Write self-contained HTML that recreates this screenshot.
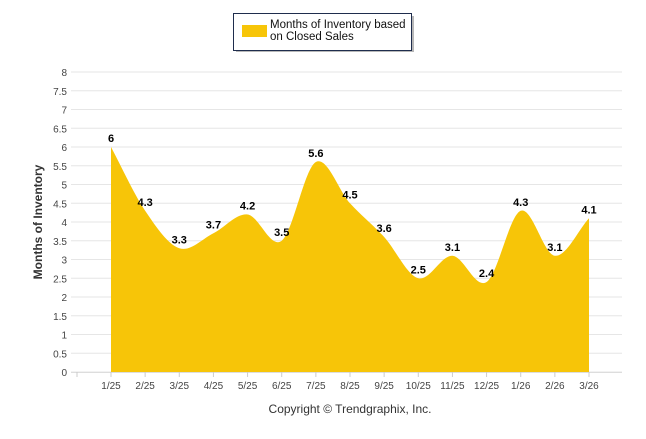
<!DOCTYPE html>
<html><head><meta charset="utf-8"><style>
body{margin:0;background:#fff;width:646px;height:434px;overflow:hidden;font-family:"Liberation Sans",Arial,sans-serif}
</style></head><body>
<svg id="chart" width="646" height="434" xmlns="http://www.w3.org/2000/svg">
<g id="grid"></g>
<g id="yticks"></g>
<path id="area" fill="#f7c508"></path>
<g id="xaxis"></g>
<g id="labels"></g>
<text transform="translate(42,222) rotate(-90)" text-anchor="middle" font-size="12" font-weight="bold" fill="#333">Months of Inventory</text>
<text x="350" y="413" text-anchor="middle" font-size="12" fill="#333">Copyright © Trendgraphix, Inc.</text>
<g>
<rect x="236" y="16" width="178" height="36" fill="#333" opacity="0.35"/>
<rect x="233.5" y="13.5" width="178" height="37" fill="#fff" stroke="#1f2d4d" stroke-width="1"/>
<rect x="242" y="25" width="25" height="12" fill="#f7c508"/>
<text x="270" y="28" font-size="11.5" fill="#111">Months of Inventory based</text>
<text x="270" y="40" font-size="11.5" fill="#111">on Closed Sales</text>
</g>
</svg>
<script>
const categories=["1/25","2/25","3/25","4/25","5/25","6/25","7/25","8/25","9/25","10/25","11/25","12/25","1/26","2/26","3/26"];
const values=[6,4.3,3.3,3.7,4.2,3.5,5.6,4.5,3.6,2.5,3.1,2.4,4.3,3.1,4.1];
const yTicks=[0,0.5,1,1.5,2,2.5,3,3.5,4,4.5,5,5.5,6,6.5,7,7.5,8];
const NS="http://www.w3.org/2000/svg";
const x0=111,dx=(589-111)/14,yb=372,yt=72,ymax=8;
const X=i=>x0+i*dx, Y=v=>yb-(v/ymax)*(yb-yt);
function el(t,a,p){const e=document.createElementNS(NS,t);for(const k in a)e.setAttribute(k,a[k]);p.appendChild(e);return e;}
const grid=document.getElementById('grid'),yl=document.getElementById('yticks');
yTicks.forEach(v=>{
 const l=el('line',{x1:71,x2:622,y1:Y(v),y2:Y(v),stroke:'#e6e6e6','stroke-width':1},grid);
 
 
 const t=el('text',{x:67,y:Y(v)+4,'text-anchor':'end','font-size':10,fill:'#444'},yl);
 t.textContent=v;
 
 
});
const pts=values.map((v,i)=>[X(i),Y(v)]);
const n=pts.length;
let d=`M${pts[0][0]},${yb}L${pts[0][0]},${pts[0][1]}`;
function tan(i){const a=pts[Math.max(0,i-1)],b=pts[Math.min(n-1,i+1)];return (b[1]-a[1])/(b[0]-a[0]);}
for(let i=1;i<n;i++){
 const a=pts[i-1],b=pts[i],h=(b[0]-a[0])/3;
 const ta=tan(i-1),tb=tan(i);
 d+=`C${a[0]+h},${a[1]+ta*h} ${b[0]-h},${b[1]-tb*h} ${b[0]},${b[1]}`;
}
d+=`L${pts[n-1][0]},${yb}Z`;
document.getElementById('area').setAttribute('d',d);
const xa=document.getElementById('xaxis'),lb=document.getElementById('labels');
el('line',{x1:71,x2:622,y1:yb+0.5,y2:yb+0.5,stroke:'#ddd'},xa);
el('line',{x1:77,x2:77,y1:yb,y2:yb+5,stroke:'#ccc'},xa);
categories.forEach((c,i)=>{
 el('line',{x1:X(i),x2:X(i),y1:yb,y2:yb+5,stroke:'#ccc'},xa);
 const t=el('text',{x:X(i),y:yb+17,'text-anchor':'middle','font-size':10,fill:'#444'},xa);
 t.textContent=c;
 
 
 const v=el('text',{x:X(i),y:Y(values[i])-5,'text-anchor':'middle','font-size':11,'font-weight':'bold',fill:'#000'},lb);
 v.textContent=values[i];
 
 
});
</script>
</body></html>
